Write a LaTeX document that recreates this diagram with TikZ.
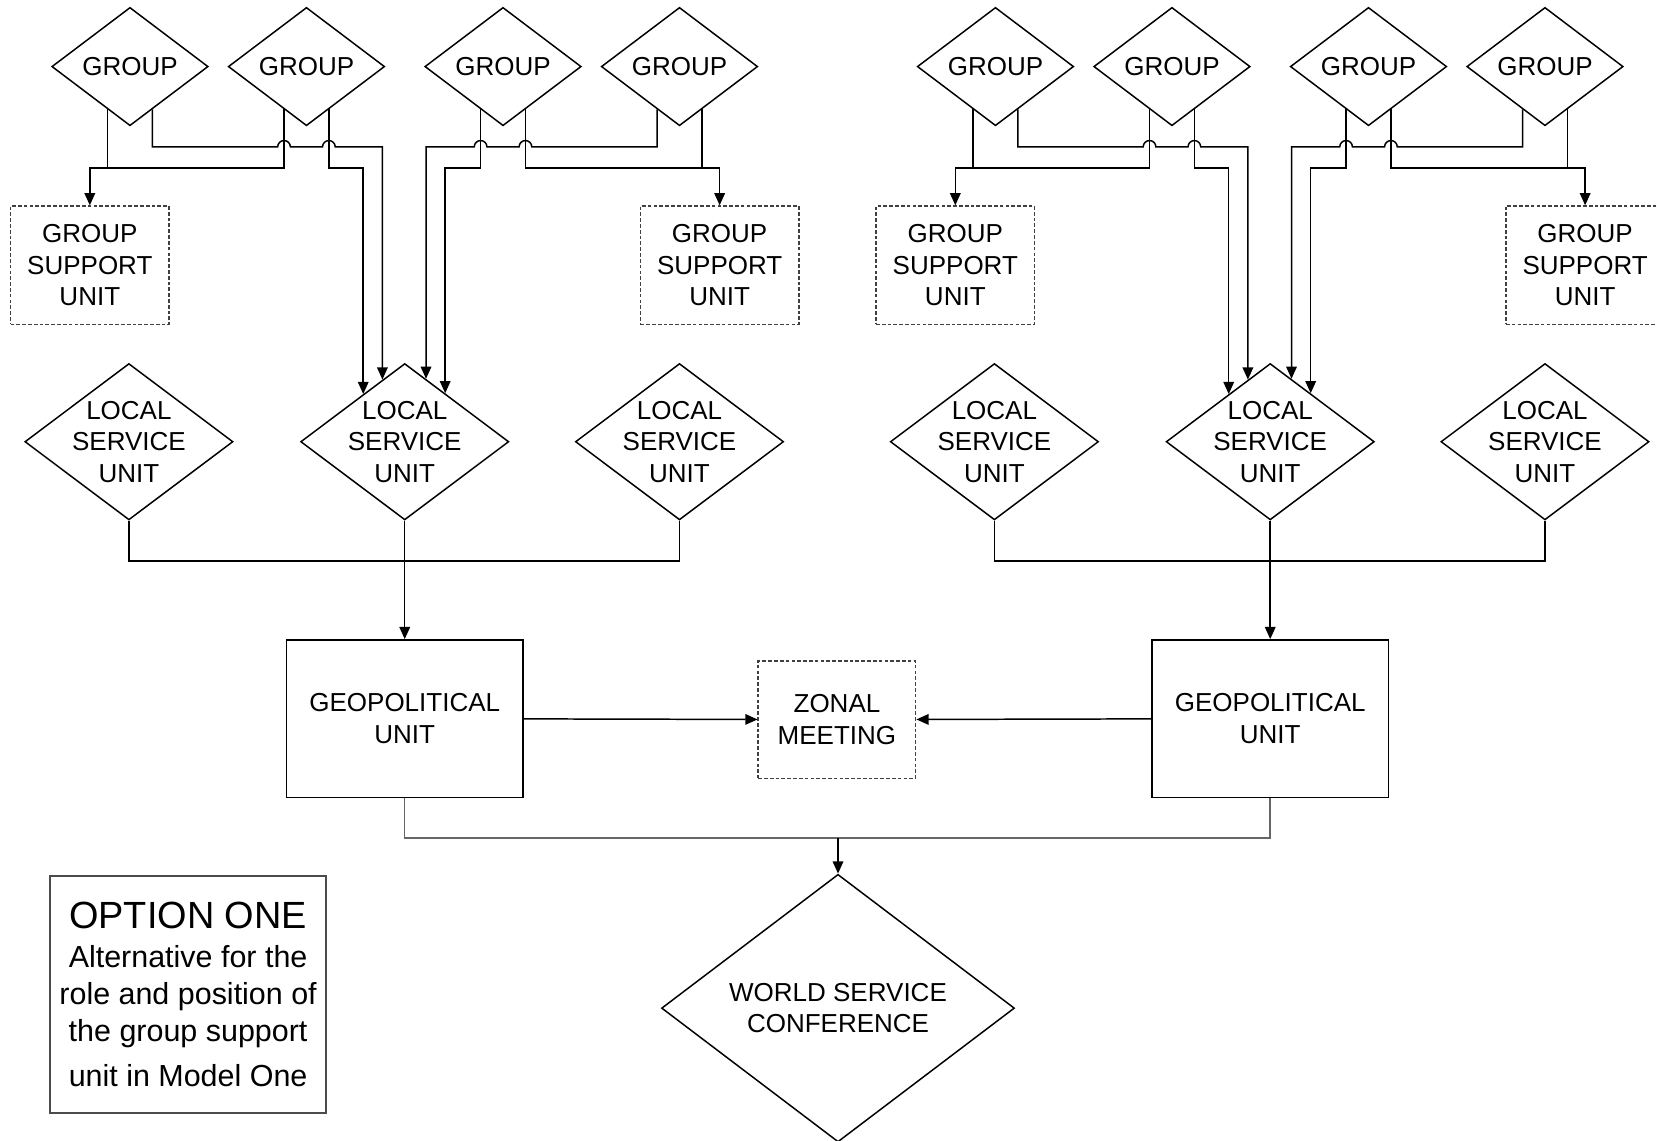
\documentclass[tikz,border=0pt]{standalone}
\usepackage{fontspec}
\setmainfont{Liberation Sans}
\usetikzlibrary{arrows.meta,calc,shapes.geometric}

\begin{document}
\begin{tikzpicture}[x=0.1mm,y=-0.1mm,thin,>={Triangle[length=1.15mm,width=1mm]},
            every node/.style={font=\fontsize{7}{8.5}\selectfont,align=center},
            grp/.style={diamond,draw,inner sep=0pt,minimum width=14.8mm,minimum height=11.2mm},
            lsu/.style={diamond,draw,inner sep=0pt,minimum width=19.7mm,minimum height=14.8mm,
              label={center:LOCAL\\SERVICE\\UNIT}},
            dashbox/.style={draw=black!75,dash pattern=on 0.35mm off 0.2mm,minimum width=15mm,minimum height=11.2mm},
            geo/.style={draw,minimum width=22.4mm,minimum height=14.9mm}]
            \useasboundingbox (0,0) rectangle (1568,1079);
            \coordinate (hi) at (0,139);
            \coordinate (lo) at (0,159);
            \coordinate (bus) at (0,531);
            \coordinate (bot) at (0,793);
            \foreach \s/\dx in {L/0,R/819}{
              \foreach \i/\x in {1/123,2/290,3/476,4/643}{
                \node[grp] (g\s\i) at (\x+\dx,63) {GROUP};
                \coordinate (g\s\i-l) at ($(g\s\i.south)!.284!(g\s\i.west)$);
                \coordinate (g\s\i-r) at ($(g\s\i.south)!.284!(g\s\i.east)$);
              }
              \node[dashbox] (s\s1) at (85+\dx,251) {GROUP\\SUPPORT\\UNIT};
              \node[dashbox] (s\s2) at (681+\dx,251) {GROUP\\SUPPORT\\UNIT};
              \foreach \i/\x in {1/122,2/383,3/643}
                \node[lsu] (l\s\i) at (\x+\dx,418) {};
              \node[geo] (geo\s) at (383+\dx,680) {GEOPOLITICAL\\UNIT};
              \coordinate (a\s) at ($(l\s2.north)!.396!(l\s2.west)$);
              \coordinate (b\s) at ($(l\s2.north)!.213!(l\s2.west)$);
              \coordinate (c\s) at ($(l\s2.north)!.203!(l\s2.east)$);
              \coordinate (d\s) at ($(l\s2.north)!.386!(l\s2.east)$);
              \draw[->] (g\s1-r) |- ($(g\s2-l |- hi)+(-6,0)$) arc[start angle=180,end angle=0,radius=0.6mm]
                -- ($(g\s2-r |- hi)+(-6,0)$) arc[start angle=180,end angle=0,radius=0.6mm] -- (b\s |- hi) -- (b\s);
              \draw[->] (g\s4-l) |- ($(g\s3-r |- hi)+(6,0)$) arc[start angle=0,end angle=180,radius=0.6mm]
                -- ($(g\s3-l |- hi)+(6,0)$) arc[start angle=0,end angle=180,radius=0.6mm] -- (c\s |- hi) -- (c\s);
              \draw (g\s1-l) -- (g\s1-l |- lo);
              \draw[->] (g\s2-l) |- (s\s1.north |- lo) -- (s\s1.north);
              \draw[->] (g\s2-r) |- (a\s |- lo) -- (a\s);
              \draw[->] (g\s3-l) |- (d\s |- lo) -- (d\s);
              \draw[->] (g\s3-r) |- (s\s2.north |- lo) -- (s\s2.north);
              \draw (g\s4-r) -- (g\s4-r |- lo);
              \draw (l\s1.south) |- (l\s3.south |- bus) -- (l\s3.south);
              \draw[->] (l\s2.south) -- (geo\s.north);
            }
            \node[dashbox,minimum width=14.9mm,minimum height=11.1mm] (zonal) at (792,681) {ZONAL\\MEETING};
            \node[diamond,draw,inner sep=0pt,minimum width=33.4mm,minimum height=24.9mm] (wsc) at (793,954) {WORLD SERVICE\\CONFERENCE};
            \node[draw=black!70,inner sep=1pt,minimum width=26.1mm,minimum height=22.4mm,font=\fontsize{8.2}{10}\selectfont] (opt) at (178,941)
              {{\fontsize{10.2}{12}\selectfont OPTION ONE}\\[0.5pt] Alternative for the\\role and position of\\the group support\\[2pt] unit in Model One};
            \draw[->] (geoL) -- (zonal);
            \draw[->] (geoR) -- (zonal);
            \draw[black!60] (geoL.south) |- (geoR.south |- bot) -- (geoR.south);
            \draw[->] (wsc.north |- bot) -- (wsc.north);
          \end{tikzpicture}
\end{document}
